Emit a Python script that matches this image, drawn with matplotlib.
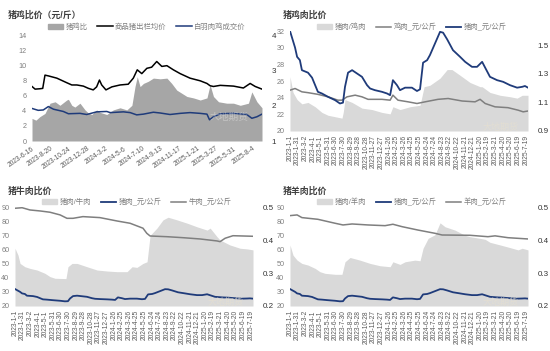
import pandas as pd
import matplotlib.pyplot as plt
from matplotlib.patches import Patch
from matplotlib.lines import Line2D

plt.rcParams['font.family'] = ['Liberation Sans', 'Noto Sans CJK SC']

# ---- 猪鸡比价, days counted from 2023-6-16 ----
hog_days = [0, 11, 28, 38, 46, 58, 88, 123, 141, 159, 182, 200, 217, 229, 239, 247, 262, 283, 312, 341,
            359, 373, 389, 407, 424, 442, 460, 478, 501, 525, 560, 596, 620, 631, 643, 667, 714, 749, 773, 791, 815]
hog_price = [7.2, 6.85, 6.9, 6.95, 8.7, 8.6, 8.3, 7.7, 7.4, 7.4, 7.25, 6.95, 6.75, 7.15, 8.05, 7.4, 6.75, 7.15, 7.4, 7.5,
             8.3, 9.4, 8.9, 9.6, 9.75, 10.5, 9.85, 9.95, 9.4, 8.9, 8.3, 7.95, 7.6, 7.3, 7.2, 7.35, 7.25, 7.0, 7.6, 7.2, 6.85]
broiler_days = [0, 22, 40, 58, 76, 111, 129, 170, 194, 229, 265, 277, 324, 348, 371, 395, 430, 454, 489, 525,
                560, 596, 620, 629, 643, 667, 714, 761, 779, 797, 815]
broiler_price = [4.3, 4.05, 4.1, 4.55, 4.2, 3.9, 3.6, 3.65, 3.5, 3.85, 3.9, 3.75, 3.85, 3.75, 3.45, 3.55, 3.8, 3.7, 3.5, 3.65,
                 3.75, 3.65, 3.55, 2.8, 3.2, 3.6, 3.65, 3.5, 3.0, 3.2, 3.55]
ratio1_days = [0, 14, 28, 46, 64, 82, 99, 123, 129, 141, 152, 170, 188, 200, 212, 229, 241, 265, 288, 312,
               336, 354, 365, 373, 383, 395, 412, 430, 454, 478, 495, 513, 531, 549, 572, 596, 620, 631, 643, 661,
               690, 714, 738, 767, 779, 797, 815]
hog_broiler = [1.64, 1.59, 1.69, 1.78, 2.07, 2.11, 2.01, 2.16, 2.18, 2.01, 1.96, 2.07, 1.88, 1.79, 1.75, 1.88, 1.81, 1.75, 1.88, 1.94,
               1.88, 2.01, 2.54, 2.82, 2.54, 2.63, 2.69, 2.78, 2.76, 2.78, 2.63, 2.44, 2.35, 2.26, 2.22, 2.16, 2.22, 2.59, 2.26, 2.11,
               2.07, 2.07, 2.01, 2.07, 2.39, 2.11, 1.94]

# ---- 肉类比价, days counted from 2023-1-1 ----
pork_days = [0, 20, 28, 39, 47, 71, 87, 110, 126, 150, 178, 197, 209, 217, 229, 245, 284, 304, 316, 335,
             363, 383, 395, 406, 422, 434, 454, 481, 501, 513, 525, 541, 552, 572, 592, 604, 620, 643, 671, 691,
             718, 738, 758, 770, 789, 817, 841, 868, 896, 916, 927, 939]
pork = [32.0, 30.0, 28.9, 28.5, 27.3, 27.0, 26.4, 24.7, 24.5, 24.1, 23.7, 23.3, 23.4, 25.3, 27.0, 27.3, 26.5, 25.5, 25.1, 24.9,
        24.7, 24.5, 24.3, 26.1, 25.5, 24.9, 25.2, 25.2, 24.8, 25.0, 28.2, 28.5, 29.1, 30.5, 31.9, 31.8, 31.0, 29.7, 28.9, 28.3,
        27.7, 27.7, 28.3, 27.6, 26.5, 26.1, 25.9, 25.5, 25.2, 25.3, 25.4, 25.2]

chicken_days = [0, 20, 47, 71, 110, 150, 189, 205, 225, 257, 284, 308, 363, 395, 406, 426, 466, 501, 533, 584,
                624, 679, 730, 750, 770, 809, 860, 900, 920, 939]
chicken = [24.9, 25.1, 24.7, 24.6, 24.4, 24.1, 23.7, 23.7, 24.1, 24.3, 24.1, 23.8, 23.8, 23.7, 24.3, 23.7, 23.5, 23.3, 23.5, 23.8,
           23.9, 23.6, 23.5, 23.8, 23.3, 22.9, 22.8, 22.5, 22.3, 22.4]
pc_days = [0, 12, 28, 47, 71, 99, 126, 150, 178, 205, 210, 217, 245, 284, 324, 363, 395, 406, 434, 474,
           513, 529, 552, 592, 620, 639, 671, 710, 750, 758, 789, 829, 868, 896, 916, 939]
pork_chicken = [1.28, 1.17, 1.12, 1.09, 1.10, 1.07, 1.03, 1.01, 1.00, 0.99, 1.03, 1.12, 1.10, 1.06, 1.05, 1.03, 1.02, 1.07, 1.05, 1.07,
                1.08, 1.21, 1.22, 1.27, 1.33, 1.33, 1.29, 1.24, 1.21, 1.21, 1.17, 1.15, 1.14, 1.13, 1.15, 1.15]

beef_days = [0, 28, 59, 99, 138, 178, 205, 229, 268, 335, 403, 454, 505, 520, 533, 600, 663, 730, 797, 809, 829, 860, 939]
beef = [89.1, 89.5, 87.9, 87.2, 86.3, 84.4, 82.0, 82.0, 83.2, 82.5, 80.1, 78.5, 75.0, 71.4, 69.5, 69.0, 68.3, 67.4, 66.0, 65.5,
        67.9, 69.7, 69.3]
pb_days = [0, 12, 20, 39, 59, 87, 118, 138, 158, 201, 209, 225, 245, 284, 324, 363, 403, 442, 462, 481,
           505, 521, 533, 560, 584, 604, 639, 679, 718, 758, 770, 797, 809, 848, 888, 916, 939]
pork_beef = [0.375, 0.354, 0.329, 0.319, 0.314, 0.309, 0.299, 0.289, 0.284, 0.283, 0.319, 0.329, 0.329, 0.319, 0.309, 0.306,
             0.304, 0.304, 0.319, 0.317, 0.329, 0.334, 0.414, 0.436, 0.461, 0.469, 0.461, 0.451, 0.44, 0.43, 0.436, 0.41,
             0.40, 0.385, 0.375, 0.373, 0.37]

mutton_days = [0, 28, 47, 110, 178, 209, 245, 308, 375, 406, 442, 505, 572, 600, 710, 781, 809, 860, 939]
mutton = [83.9, 84.4, 82.5, 81.3, 78.5, 77.3, 78.0, 77.3, 76.8, 77.8, 76.1, 73.7, 71.4, 70.2, 70.0, 69.0, 69.6, 68.3, 67.4]
pm_days = [0, 12, 28, 47, 71, 99, 118, 138, 178, 205, 217, 237, 276, 316, 355, 395, 406, 434, 454, 493,
           513, 525, 545, 572, 592, 612, 651, 691, 710, 750, 770, 789, 829, 868, 900, 916, 939]
pork_mutton = [0.385, 0.354, 0.339, 0.329, 0.324, 0.314, 0.304, 0.299, 0.296, 0.296, 0.334, 0.347, 0.339, 0.329, 0.322, 0.319,
               0.334, 0.326, 0.334, 0.339, 0.337, 0.375, 0.405, 0.416, 0.452, 0.44, 0.43, 0.414, 0.41, 0.405, 0.402, 0.393,
               0.385, 0.377, 0.37, 0.375, 0.37]

NAVY = '#1f3b7a'
GREY_LINE = '#7f7f7f'
W, H = 550, 351


def dates(start, days):
    return pd.Timestamp(start) + pd.to_timedelta(days, unit='D')


def box(x0, y_top, x1, y_bot):
    return [x0 / W, 1 - y_bot / H, (x1 - x0) / W, (y_bot - y_top) / H]


def style(ax, ax2):
    for a in (ax, ax2):
        for s in a.spines.values():
            s.set_visible(False)
        a.tick_params(length=0)
    ax.tick_params(axis='y', labelsize=5.2, labelcolor='#7f7f7f', pad=4)
    ax.tick_params(axis='x', labelsize=4.8, labelcolor='#595959', pad=3)
    ax2.tick_params(axis='y', labelsize=5.8, labelcolor='#333333', pad=7)
    ax.set_zorder(ax2.get_zorder() + 1)
    ax.patch.set_visible(False)


def legend(fig, x, y, handles, labels):
    fig.legend(handles, labels, loc='center left', bbox_to_anchor=(x / W, 1 - y / H), ncol=3,
               frameon=False, fontsize=5.3, labelcolor='#7f7f7f', handlelength=2.1, handleheight=0.6,
               handletextpad=0.3, columnspacing=1.3, borderpad=0, borderaxespad=0)


fig = plt.figure(figsize=(5.5, 3.51), dpi=100)

# ---------- 猪鸡比价 ----------
s1 = '2023-06-16'
ax = fig.add_axes(box(32, 35, 262, 141))
ax.plot(dates(s1, hog_days), hog_price, color='black', lw=1.1)
ax.plot(dates(s1, broiler_days), broiler_price, color=NAVY, lw=1.1)
ax2 = ax.twinx()
ax2.fill_between(dates(s1, ratio1_days), 1, hog_broiler, color='#a6a6a6', lw=0)
ax.set_ylim(0, 14)
ax.set_yticks(range(0, 15, 2))
ax2.set_ylim(1, 4)
ax2.set_yticks([1, 2, 3, 4])
ax.set_xlim(dates(s1, 0), dates(s1, 815))
ticks = pd.date_range(s1, periods=13, freq='65D')
ax.set_xticks(ticks)
ax.set_xticklabels([f'{t.year}-{t.month}-{t.day}' for t in ticks], rotation=35, ha='right',
                   rotation_mode='anchor', fontsize=5.2)
style(ax, ax2)
fig.text(8 / W, 1 - 15 / H, '猪鸡比价（元/斤）', fontsize=6.4, fontweight='bold', color='#404040', va='center')
legend(fig, 48, 27,
       [Patch(color='#a6a6a6'), Line2D([], [], color='black', lw=1.1), Line2D([], [], color=NAVY, lw=1.1)],
       ['猪鸡比', '商品猪出栏均价', '白羽肉鸡成交价'])
fig.text(210 / W, 1 - 117 / H, '大地期货', fontsize=7, color='white', alpha=0.35, va='center')

# ---------- 三个肉类比价 ----------
s2 = '2023-01-01'
ticks2 = pd.date_range(s2, periods=32, freq='30D')
panels = [
    (290, 31, 528, 131, '猪鸡肉比价', (20, 32, range(20, 33, 2)), (0.9, 1.6, [0.9, 1.1, 1.3, 1.5]),
     pc_days, pork_chicken, '猪肉/鸡肉', chicken_days, chicken, '鸡肉_元/公斤', False),
    (15, 207, 253, 306, '猪牛肉比价', (20, 90, range(20, 91, 10)), (0.2, 0.5, [0.2, 0.3, 0.4, 0.5]),
     pb_days, pork_beef, '猪肉/牛肉', beef_days, beef, '牛肉_元/公斤', True),
    (290, 207, 528, 306, '猪羊肉比价', (20, 90, range(20, 91, 10)), (0.2, 0.5, [0.2, 0.3, 0.4, 0.5]),
     pm_days, pork_mutton, '猪肉/羊肉', mutton_days, mutton, '羊肉_元/公斤', True),
]

for (x0, yt, x1, yb, title, left, right, rdays, ratio, rname, mdays, meat, mname, pork_first) in panels:
    ax = fig.add_axes(box(x0, yt, x1, yb))
    ax.plot(dates(s2, mdays), meat, color=GREY_LINE, lw=1.1)
    ax.plot(dates(s2, pork_days), pork, color=NAVY, lw=1.3)
    ax2 = ax.twinx()
    ax2.fill_between(dates(s2, rdays), right[0], ratio, color='#d9d9d9', lw=0)
    ax.set_ylim(left[0], left[1])
    ax.set_yticks(list(left[2]))
    ax2.set_ylim(right[0], right[1])
    ax2.set_yticks(right[2])
    ax2.set_yticklabels([f'{v:g}' for v in right[2]])
    ax.set_xlim(dates(s2, 0), dates(s2, 939))
    ax.set_xticks(ticks2)
    ax.set_xticklabels([f'{t.year}-{t.month}-{t.day}' for t in ticks2], rotation=90)
    style(ax, ax2)
    fig.text((x0 - 7) / W, 1 - (yt - 16) / H, title, fontsize=6.4, fontweight='bold', color='#404040', va='center')
    area = Patch(color='#d9d9d9')
    pk = Line2D([], [], color=NAVY, lw=1.3)
    mt = Line2D([], [], color=GREY_LINE, lw=1.1)
    if pork_first:
        legend(fig, x0 + 27, yt - 5, [area, pk, mt], [rname, '猪肉_元/公斤', mname])
    else:
        legend(fig, x0 + 27, yt - 4, [area, mt, pk], [rname, mname, '猪肉_元/公斤'])
    fig.text((x1 - 45) / W, 1 - (yb - 4) / H, '大地期货', fontsize=6.5, color='#e6e0d0', alpha=0.7, va='center')

fig.savefig('out.png', dpi=100, facecolor='white')
